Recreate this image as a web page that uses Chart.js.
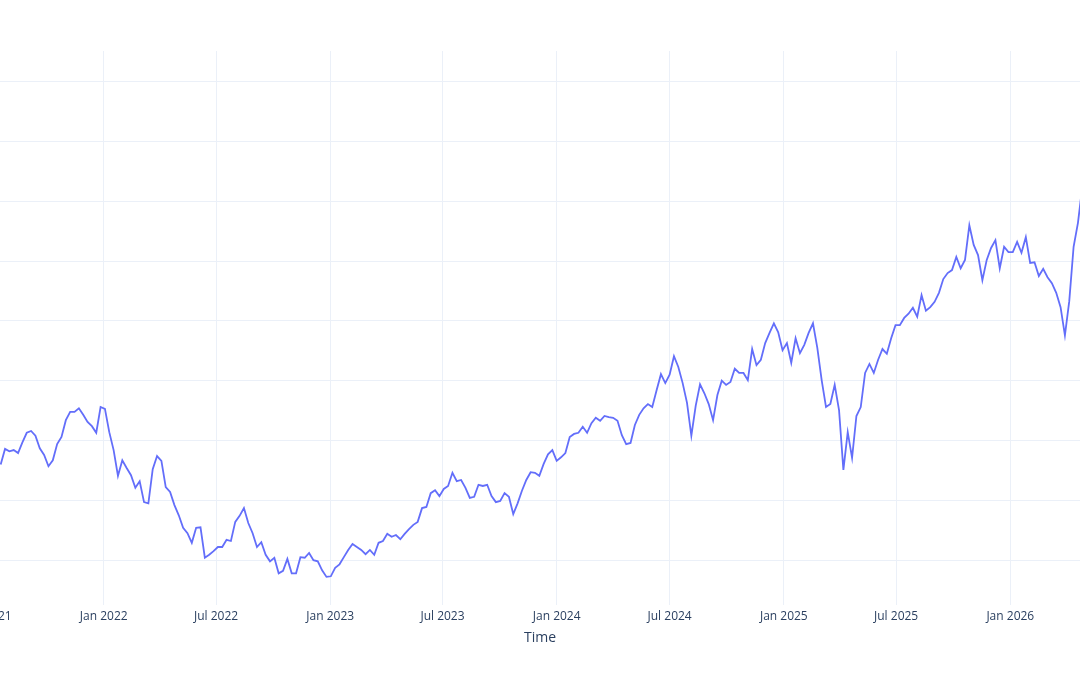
<!DOCTYPE html>
<html>
<head>
<meta charset="utf-8">
<script src="https://cdn.jsdelivr.net/npm/chart.js@4/dist/chart.umd.min.js"></script>
<style>
  html, body { margin: 0; padding: 0; background: #fff; overflow: hidden; }
  body { width: 1080px; height: 675px; position: relative; }
  /* the plot is wider than the window, like the reference crop */
  #wrap { position: absolute; left: -60px; top: 0; width: 1200px; height: 675px; }
</style>
</head>
<body>
<div id="wrap"><canvas id="chart"></canvas></div>
<script>
// weekly closes (first week starts Mon 19 Jul 2021)
const firstWeek = "2021-07-19";
const values2021 = [56.0, 58.6, 58.2, 58.4, 57.9, 59.7, 61.3, 61.6, 60.8, 58.7, 57.6, 55.7,
  56.7, 59.4, 60.6, 63.4, 64.8, 64.8, 65.4, 64.3, 63.1, 62.4, 61.3, 65.6];
const values2022 = [65.3, 61.4, 58.4, 54.1, 56.7, 55.4, 54.2, 52.1, 53.2, 49.7, 49.5, 55.2,
  57.4, 56.6, 52.2, 51.4, 49.2, 47.5, 45.4, 44.5, 42.9, 45.4, 45.5, 40.4, 40.9, 41.5, 42.2,
  42.2, 43.4, 43.2, 46.4, 47.4, 48.7, 46.2, 44.5, 42.2, 43.0, 40.9, 39.8, 40.4, 37.8, 38.2,
  40.2, 37.8, 37.8, 40.5, 40.4, 41.2, 40.0, 39.8, 38.3, 37.2];
const values2023 = [37.3, 38.7, 39.3, 40.5, 41.7, 42.7, 42.2, 41.7, 41.0, 41.7, 40.9, 42.9,
  43.2, 44.4, 43.9, 44.2, 43.5, 44.4, 45.2, 45.9, 46.4, 48.7, 48.9, 51.2, 51.7, 50.7, 51.9,
  52.4, 54.6, 53.2, 53.4, 52.1, 50.4, 50.6, 52.6, 52.4, 52.6, 50.7, 49.7, 49.9, 51.2, 50.6,
  47.7, 49.5, 51.6, 53.4, 54.7, 54.6, 54.1, 56.1, 57.7, 58.4];
const values2024 = [56.6, 57.2, 57.9, 60.6, 61.1, 61.3, 62.3, 61.3, 62.9, 63.8, 63.3, 64.1,
  63.9, 63.8, 63.3, 60.9, 59.4, 59.6, 62.6, 64.3, 65.4, 66.1, 65.6, 68.4, 71.1, 69.6, 71.0,
  74.1, 72.3, 69.6, 66.3, 60.8, 65.8, 69.4, 67.9, 66.1, 63.4, 67.6, 70.0, 69.3, 69.8, 72.0,
  71.3, 71.3, 70.1, 75.3, 72.6, 73.5, 76.3, 78.0, 79.6, 78.1, 75.1];
const values2025 = [76.3, 73.0, 77.1, 74.6, 76.0, 78.0, 79.6, 75.5, 70.1, 65.6, 66.1, 69.3,
  65.1, 55.1, 61.4, 57.1, 64.1, 65.6, 71.3, 72.8, 71.3, 73.5, 75.3, 74.5, 77.1, 79.3, 79.3,
  80.5, 81.2, 82.2, 80.7, 84.3, 81.7, 82.3, 83.2, 84.7, 87.0, 88.0, 88.5, 90.7, 88.8, 90.2,
  96.0, 92.7, 91.0, 86.8, 90.2, 92.2, 93.5, 88.8, 92.4, 91.5];
const values2026 = [91.5, 93.2, 91.4, 94.0, 89.7, 89.8, 87.5, 88.7, 87.3, 86.3, 84.7, 82.3,
  77.6, 83.3, 92.4, 96.4, 102.4];

const tickDates = ["2021-07-01", "2022-01-01", "2022-07-01", "2023-01-01", "2023-07-01",
  "2024-01-01", "2024-07-01", "2025-01-01", "2025-07-01", "2026-01-01"];
const gridValues = [40, 50, 60, 70, 80, 90, 100, 110, 120];
const monthNames = ["Jan", "Feb", "Mar", "Apr", "May", "Jun", "Jul", "Aug", "Sep", "Oct", "Nov", "Dec"];

const DAY = 86400000;
const allValues = [...values2021, ...values2022, ...values2023, ...values2024, ...values2025, ...values2026];
const start = Date.parse(firstWeek + "T00:00:00Z");
const points = allValues.map((v, i) => ({ x: start + i * 7 * DAY, y: v }));
const tickValues = tickDates.map((d) => Date.parse(d + "T00:00:00Z"));

const axisStart = Date.UTC(2021, 3, 12, 5);
const axisEnd = Date.UTC(2026, 6, 29);

const gridColor = "#ebf0f8";
const textColor = "#2a3f5f";

new Chart(document.getElementById("chart"), {
  type: "line",
  data: {
    datasets: [
      {
        data: points,
        borderColor: "#636efa",
        borderWidth: 1.8,
        pointRadius: 0,
        tension: 0,
        fill: false,
      },
    ],
  },
  options: {
    responsive: true,
    maintainAspectRatio: false,
    animation: false,
    layout: { padding: { top: 51, left: 0, right: 0, bottom: 0 } },
    scales: {
      x: {
        type: "linear",
        min: axisStart,
        max: axisEnd,
        afterBuildTicks: (scale) => {
          scale.ticks = tickValues.map((value) => ({ value }));
        },
        afterFit: (scale) => {
          scale.height = 70;
          scale.paddingLeft = 0;
          scale.paddingRight = 0;
        },
        grid: { color: gridColor, lineWidth: 1, drawTicks: false },
        border: { display: false },
        ticks: {
          autoSkip: false,
          maxRotation: 0,
          padding: 4,
          color: textColor,
          font: { family: "'Open Sans', sans-serif", size: 12 },
          callback: (value) => {
            const d = new Date(value);
            return monthNames[d.getUTCMonth()] + " " + d.getUTCFullYear();
          },
        },
        title: {
          display: true,
          text: "Time",
          color: textColor,
          font: { family: "'Open Sans', sans-serif", size: 14 },
          padding: { top: 0, bottom: 29 },
        },
      },
      y: {
        min: 32.5,
        max: 125.13,
        afterBuildTicks: (scale) => {
          scale.ticks = gridValues.map((value) => ({ value }));
        },
        afterFit: (scale) => {
          scale.width = 0;
        },
        grid: { color: gridColor, lineWidth: 1, drawTicks: false },
        border: { display: false },
        ticks: { display: false },
      },
    },
    plugins: {
      legend: { display: false },
      tooltip: { enabled: false },
    },
  },
});
</script>
</body>
</html>
